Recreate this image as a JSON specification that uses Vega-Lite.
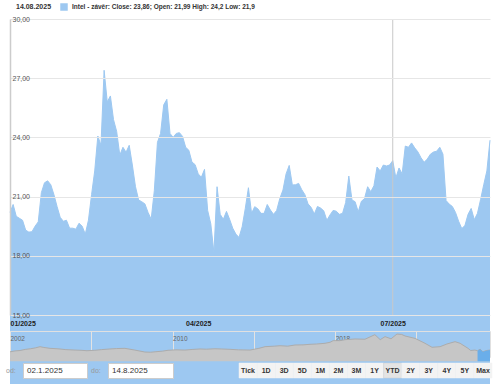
{
  "$schema": "https://vega.github.io/schema/vega-lite/v6.json",
  "padding": {"left": 6, "top": 3, "right": 8, "bottom": 0},
  "config": {
    "font": "Liberation Sans",
    "view": {"stroke": null}
  },
  "datasets": {
    "intel": [
      {"d":"2025-01-02","c":20.2},{"d":"2025-01-03","c":20.6},{"d":"2025-01-06","c":20.0},{"d":"2025-01-07","c":19.9},{"d":"2025-01-08","c":19.8},
      {"d":"2025-01-10","c":19.3},{"d":"2025-01-13","c":19.2},{"d":"2025-01-14","c":19.22},{"d":"2025-01-15","c":19.5},{"d":"2025-01-16","c":19.72},
      {"d":"2025-01-17","c":21.2},{"d":"2025-01-21","c":21.7},{"d":"2025-01-22","c":21.8},{"d":"2025-01-23","c":21.6},{"d":"2025-01-24","c":21.1},
      {"d":"2025-01-27","c":20.5},{"d":"2025-01-28","c":19.95},{"d":"2025-01-29","c":19.75},{"d":"2025-01-30","c":19.8},{"d":"2025-01-31","c":19.4},
      {"d":"2025-02-03","c":19.4},{"d":"2025-02-04","c":19.35},{"d":"2025-02-05","c":19.65},{"d":"2025-02-06","c":19.5},{"d":"2025-02-07","c":19.1},
      {"d":"2025-02-10","c":19.8},{"d":"2025-02-11","c":21.1},{"d":"2025-02-12","c":22.3},{"d":"2025-02-13","c":24.07},{"d":"2025-02-14","c":23.6},
      {"d":"2025-02-18","c":27.4},{"d":"2025-02-19","c":25.8},{"d":"2025-02-20","c":26.1},{"d":"2025-02-21","c":24.9},{"d":"2025-02-24","c":24.3},
      {"d":"2025-02-25","c":23.1},{"d":"2025-02-26","c":23.5},{"d":"2025-02-27","c":23.25},{"d":"2025-02-28","c":23.6},
      {"d":"2025-03-03","c":22.6},{"d":"2025-03-04","c":21.5},{"d":"2025-03-05","c":20.83},{"d":"2025-03-06","c":20.74},{"d":"2025-03-07","c":20.63},
      {"d":"2025-03-10","c":20.2},{"d":"2025-03-11","c":19.85},{"d":"2025-03-12","c":21.3},{"d":"2025-03-13","c":23.75},{"d":"2025-03-14","c":24.2},
      {"d":"2025-03-17","c":25.65},{"d":"2025-03-18","c":25.93},{"d":"2025-03-19","c":24.2},{"d":"2025-03-20","c":24.0},{"d":"2025-03-21","c":24.2},
      {"d":"2025-03-24","c":24.24},{"d":"2025-03-25","c":24.05},{"d":"2025-03-26","c":23.5},{"d":"2025-03-27","c":23.35},{"d":"2025-03-28","c":22.75},
      {"d":"2025-03-31","c":22.62},
      {"d":"2025-04-01","c":22.15},{"d":"2025-04-02","c":21.98},{"d":"2025-04-03","c":22.38},{"d":"2025-04-04","c":20.3},{"d":"2025-04-07","c":19.62},
      {"d":"2025-04-08","c":18.15},{"d":"2025-04-09","c":21.5},{"d":"2025-04-10","c":20.1},{"d":"2025-04-11","c":19.85},{"d":"2025-04-14","c":20.25},
      {"d":"2025-04-15","c":19.85},{"d":"2025-04-16","c":19.4},{"d":"2025-04-17","c":19.1},{"d":"2025-04-21","c":18.93},{"d":"2025-04-22","c":19.47},
      {"d":"2025-04-23","c":20.4},{"d":"2025-04-24","c":21.45},{"d":"2025-04-25","c":20.15},{"d":"2025-04-28","c":20.49},{"d":"2025-04-29","c":20.38},
      {"d":"2025-04-30","c":20.15},
      {"d":"2025-05-01","c":20.15},{"d":"2025-05-02","c":20.6},{"d":"2025-05-05","c":20.32},{"d":"2025-05-06","c":20.1},{"d":"2025-05-07","c":20.3},
      {"d":"2025-05-08","c":20.9},{"d":"2025-05-09","c":21.33},{"d":"2025-05-12","c":22.15},{"d":"2025-05-13","c":22.58},{"d":"2025-05-14","c":21.59},
      {"d":"2025-05-15","c":21.6},{"d":"2025-05-16","c":21.67},{"d":"2025-05-19","c":21.35},{"d":"2025-05-20","c":21.1},{"d":"2025-05-21","c":20.63},
      {"d":"2025-05-22","c":20.45},{"d":"2025-05-23","c":20.12},{"d":"2025-05-27","c":20.5},{"d":"2025-05-28","c":20.42},{"d":"2025-05-29","c":20.28},
      {"d":"2025-05-30","c":19.8},
      {"d":"2025-06-02","c":20.07},{"d":"2025-06-03","c":20.3},{"d":"2025-06-04","c":20.26},{"d":"2025-06-05","c":20.1},{"d":"2025-06-06","c":20.15},
      {"d":"2025-06-09","c":20.7},{"d":"2025-06-10","c":22.04},{"d":"2025-06-11","c":20.83},{"d":"2025-06-12","c":20.74},{"d":"2025-06-13","c":20.23},
      {"d":"2025-06-16","c":20.76},{"d":"2025-06-17","c":20.9},{"d":"2025-06-18","c":21.5},{"d":"2025-06-20","c":21.25},{"d":"2025-06-23","c":21.55},
      {"d":"2025-06-24","c":22.5},{"d":"2025-06-25","c":22.3},{"d":"2025-06-26","c":22.6},{"d":"2025-06-27","c":22.55},{"d":"2025-06-30","c":22.6},
      {"d":"2025-07-01","c":22.82},{"d":"2025-07-02","c":21.95},{"d":"2025-07-03","c":22.45},{"d":"2025-07-07","c":22.15},{"d":"2025-07-08","c":23.56},
      {"d":"2025-07-09","c":23.5},{"d":"2025-07-10","c":23.72},{"d":"2025-07-11","c":23.47},{"d":"2025-07-14","c":23.27},{"d":"2025-07-15","c":22.97},
      {"d":"2025-07-16","c":22.74},{"d":"2025-07-17","c":22.9},{"d":"2025-07-18","c":23.15},{"d":"2025-07-21","c":23.26},{"d":"2025-07-22","c":23.3},
      {"d":"2025-07-23","c":23.5},{"d":"2025-07-24","c":23.15},{"d":"2025-07-25","c":20.8},{"d":"2025-07-28","c":20.62},{"d":"2025-07-29","c":20.5},
      {"d":"2025-07-30","c":20.2},{"d":"2025-07-31","c":19.75},
      {"d":"2025-08-01","c":19.38},{"d":"2025-08-04","c":19.53},{"d":"2025-08-05","c":20.1},{"d":"2025-08-06","c":20.4},{"d":"2025-08-07","c":19.83},
      {"d":"2025-08-08","c":20.15},{"d":"2025-08-11","c":20.85},{"d":"2025-08-12","c":21.6},{"d":"2025-08-13","c":22.3},{"d":"2025-08-14","c":23.86}
    ],
    "nav": [
      {"d":"2002-01-02","v":22},{"d":"2002-04-01","v":24},{"d":"2002-07-01","v":25},{"d":"2002-10-01","v":27.5},
      {"d":"2003-01-02","v":29},{"d":"2003-04-01","v":31},{"d":"2003-06-25","v":33.8},{"d":"2003-09-01","v":32},{"d":"2003-12-20","v":30},
      {"d":"2004-03-01","v":29.5},{"d":"2004-06-15","v":28.5},{"d":"2004-10-01","v":27},{"d":"2005-03-15","v":26},{"d":"2005-07-01","v":25.5},
      {"d":"2005-10-15","v":24.5},{"d":"2006-03-05","v":25.5},{"d":"2006-07-01","v":27},{"d":"2006-12-01","v":28.5},{"d":"2007-04-01","v":29.5},
      {"d":"2007-08-28","v":30},{"d":"2008-02-22","v":26},{"d":"2008-08-20","v":21.5},{"d":"2008-12-01","v":21},{"d":"2009-02-20","v":22},
      {"d":"2009-07-01","v":23.5},{"d":"2009-10-11","v":25.5},{"d":"2010-03-01","v":26.5},{"d":"2010-08-10","v":26},{"d":"2011-01-01","v":27.5},
      {"d":"2011-05-08","v":28.5},{"d":"2011-09-01","v":28},{"d":"2012-02-01","v":29},{"d":"2012-06-01","v":28.5},{"d":"2012-10-30","v":27.7},
      {"d":"2013-04-01","v":26.5},{"d":"2013-10-23","v":26},{"d":"2014-04-01","v":30},{"d":"2014-07-20","v":33.8},{"d":"2015-01-01","v":35},
      {"d":"2015-04-16","v":36},{"d":"2015-09-01","v":35},{"d":"2016-01-10","v":37.7},{"d":"2016-06-01","v":38},{"d":"2016-10-05","v":39.3},
      {"d":"2017-02-01","v":40},{"d":"2017-07-01","v":41.6},{"d":"2017-10-01","v":44},{"d":"2017-11-25","v":47.7},{"d":"2018-03-26","v":47.7},
      {"d":"2018-07-01","v":50},{"d":"2018-12-24","v":51.6},{"d":"2019-06-20","v":51},{"d":"2019-12-15","v":61.5},{"d":"2020-03-20","v":50},
      {"d":"2020-06-15","v":57},{"d":"2020-10-01","v":52},{"d":"2021-01-15","v":63},{"d":"2021-04-10","v":62},{"d":"2021-06-09","v":58.5},
      {"d":"2021-12-05","v":53},{"d":"2022-06-03","v":41.6},{"d":"2022-10-07","v":32.4},{"d":"2023-03-01","v":33.8},{"d":"2023-07-01","v":40},
      {"d":"2023-11-25","v":45.4},{"d":"2024-02-24","v":41.6},{"d":"2024-07-15","v":30},{"d":"2024-09-01","v":25},{"d":"2024-11-15","v":26},
      {"d":"2025-01-02","v":24.5},{"d":"2025-02-18","v":28},{"d":"2025-04-08","v":22},{"d":"2025-06-15","v":25},{"d":"2025-08-14","v":26}
    ]
  },
  "bounds": "flush",
  "spacing": 16,
  "vconcat": [
    {
      "width": 480,
      "height": 296,
      "layer": [
        {
          "data": {"name": "intel"},
          "mark": {"type": "area", "opacity": 1, "fillOpacity": 1, "line": {"color": "#7cb5ec", "strokeWidth": 1}},
          "encoding": {
            "x": {
              "field": "d", "type": "ordinal",
              "scale": {"type": "point", "padding": 0},
              "axis": {
                "values": ["2025-01-02", "2025-04-01", "2025-07-01"],
                "labelExpr": "substring(datum.value,5,7) + '/' + substring(datum.value,0,4)",
                "labelAlign": {"condition": {"test": "datum.value == '2025-01-02'", "value": "left"}, "value": "center"},
                "labelAngle": 0,
                "ticks": false, "tickSize": 0, "domain": false, "grid": false,
                "labelPadding": 4, "labelBaseline": "top",
                "labelFontSize": 7, "labelFontWeight": "bold", "labelColor": "#222",
                "labelOpacity": 1,
                "title": null, "zindex": 1
              }
            },
            "y": {
              "field": "c", "type": "quantitative",
              "scale": {"domain": [15, 30], "nice": false, "zero": false},
              "axis": {
                "values": [15, 18, 21, 24, 27, 30],
                "labelExpr": "replace(format(datum.value,'.2f'),'.',',')",
                "grid": true, "gridColor": "#e6e6e6",
                "domainColor": "#cccccc", "domainWidth": 1.5,
                "ticks": false, "tickSize": 0,
                "labelAlign": "left", "labelPadding": -2, "labelBaseline": "middle",
                "labelFontSize": 7, "labelColor": "#555",
                "title": null, "zindex": 1
              }
            },
            "color": {
              "datum": "Intel - závěr: Close: 23,86; Open: 21,99 High: 24,2 Low: 21,9",
              "type": "nominal",
              "scale": {"range": ["#9dc8f1"]},
              "legend": {
                "orient": "none", "legendX": 6, "legendY": -16,
                "title": "14.08.2025", "titleOrient": "left",
                "titleFontSize": 7, "titleFontWeight": "bold", "titleColor": "#333", "titlePadding": 8,
                "symbolType": "square", "symbolSize": 56, "symbolStrokeWidth": 0, "symbolOpacity": 1,
                "labelFontSize": 6.5, "labelFontWeight": "bold", "labelColor": "#333",
                "labelLimit": 0, "labelOffset": 4, "direction": "horizontal"
              }
            }
          }
        },
        {
          "data": {"values": [{}]},
          "mark": {"type": "rule", "color": "#c8c8c8", "strokeWidth": 1},
          "encoding": {"x": {"datum": "2025-07-01", "type": "ordinal"}}
        }
      ]
    },
    {
      "bounds": "flush",
      "spacing": 6,
      "vconcat": [
        {
          "width": 480,
          "height": 26,
          "view": {"stroke": "#e0e0e0"},
          "data": {"name": "nav"},
          "encoding": {
            "x": {
              "field": "d", "type": "temporal",
              "scale": {"domain": [{"year": 2002, "month": 1, "date": 1}, {"year": 2025, "month": 8, "date": 14}]},
              "axis": {
                "orient": "top",
                "values": [{"year": 2002}, {"year": 2006}, {"year": 2010}, {"year": 2014}, {"year": 2018}, {"year": 2022}],
                "labelExpr": "year(datum.value) % 8 == 2 ? timeFormat(datum.value, '%Y') : ''",
                "grid": true, "gridColor": "#e3e3e3",
                "domain": false, "ticks": false, "tickSize": 0,
                "labelAlign": "left", "labelBaseline": "top", "labelPadding": -4, "labelDx": 2,
                "labelFlush": false, "labelOverlap": false,
                "labelFontSize": 6.5, "labelColor": "#666",
                "title": null
              }
            },
            "y": {
              "field": "v", "type": "quantitative",
              "scale": {"domain": [10, 70], "zero": false, "nice": false},
              "axis": null
            }
          },
          "layer": [
            {"mark": {"type": "area", "color": "#c6c6c6", "opacity": 1, "line": {"color": "#acacac", "strokeWidth": 1}}},
            {
              "transform": [{"filter": {"field": "d", "gte": {"year": 2025, "month": 1, "date": 1}}}],
              "mark": {"type": "area", "color": "#6aaeea", "opacity": 1}
            }
          ]
        },
        {
          "bounds": "flush",
          "spacing": 0,
          "hconcat": [
            {
              "width": 13, "height": 15,
              "data": {"values": [{"t": "od:"}]},
              "mark": {"type": "text", "align": "left", "baseline": "middle", "dx": -10.5, "fontSize": 7, "color": "#999"},
              "encoding": {"text": {"field": "t"}}
            },
            {
              "width": 64, "height": 15,
              "view": {"stroke": "#cccccc", "fill": "#ffffff"},
              "data": {"values": [{"t": "02.1.2025"}]},
              "mark": {"type": "text", "align": "left", "baseline": "middle", "dx": -28, "fontSize": 8, "color": "#333"},
              "encoding": {"text": {"field": "t"}}
            },
            {
              "width": 21, "height": 15,
              "data": {"values": [{"t": "do:"}]},
              "mark": {"type": "text", "align": "left", "baseline": "middle", "dx": -6.5, "fontSize": 7, "color": "#999"},
              "encoding": {"text": {"field": "t"}}
            },
            {
              "width": 65, "height": 15,
              "view": {"stroke": "#cccccc", "fill": "#ffffff"},
              "data": {"values": [{"t": "14.8.2025"}]},
              "mark": {"type": "text", "align": "left", "baseline": "middle", "dx": -28.5, "fontSize": 8, "color": "#333"},
              "encoding": {"text": {"field": "t"}}
            },
            {
              "width": 66, "height": 15,
              "data": {"values": [{"t": ""}]},
              "mark": {"type": "text"},
              "encoding": {"text": {"field": "t"}}
            },
            {
              "width": 253, "height": 15,
              "data": {"values": [
                {"b": "Tick"}, {"b": "1D"}, {"b": "3D"}, {"b": "5D"}, {"b": "1M"}, {"b": "2M"}, {"b": "3M"},
                {"b": "1Y"}, {"b": "YTD"}, {"b": "2Y"}, {"b": "3Y"}, {"b": "4Y"}, {"b": "5Y"}, {"b": "Max"}
              ]},
              "encoding": {
                "x": {"field": "b", "type": "nominal", "sort": null, "scale": {"paddingInner": 0, "paddingOuter": 0}, "axis": null}
              },
              "layer": [
                {
                  "mark": {"type": "bar", "strokeWidth": 0.5, "opacity": 1},
                  "encoding": {
                    "color": {"condition": {"test": "datum.b == 'YTD'", "value": "#e4e4e4"}, "value": "#f3f3f3"},
                    "stroke": {"condition": {"test": "datum.b == 'YTD'", "value": "#d0d0d0"}, "value": "#f3f3f3"}
                  }
                },
                {
                  "mark": {"type": "text", "fontSize": 7, "fontWeight": "bold", "color": "#333", "baseline": "middle"},
                  "encoding": {"text": {"field": "b"}}
                }
              ]
            }
          ]
        }
      ]
    }
  ]
}
